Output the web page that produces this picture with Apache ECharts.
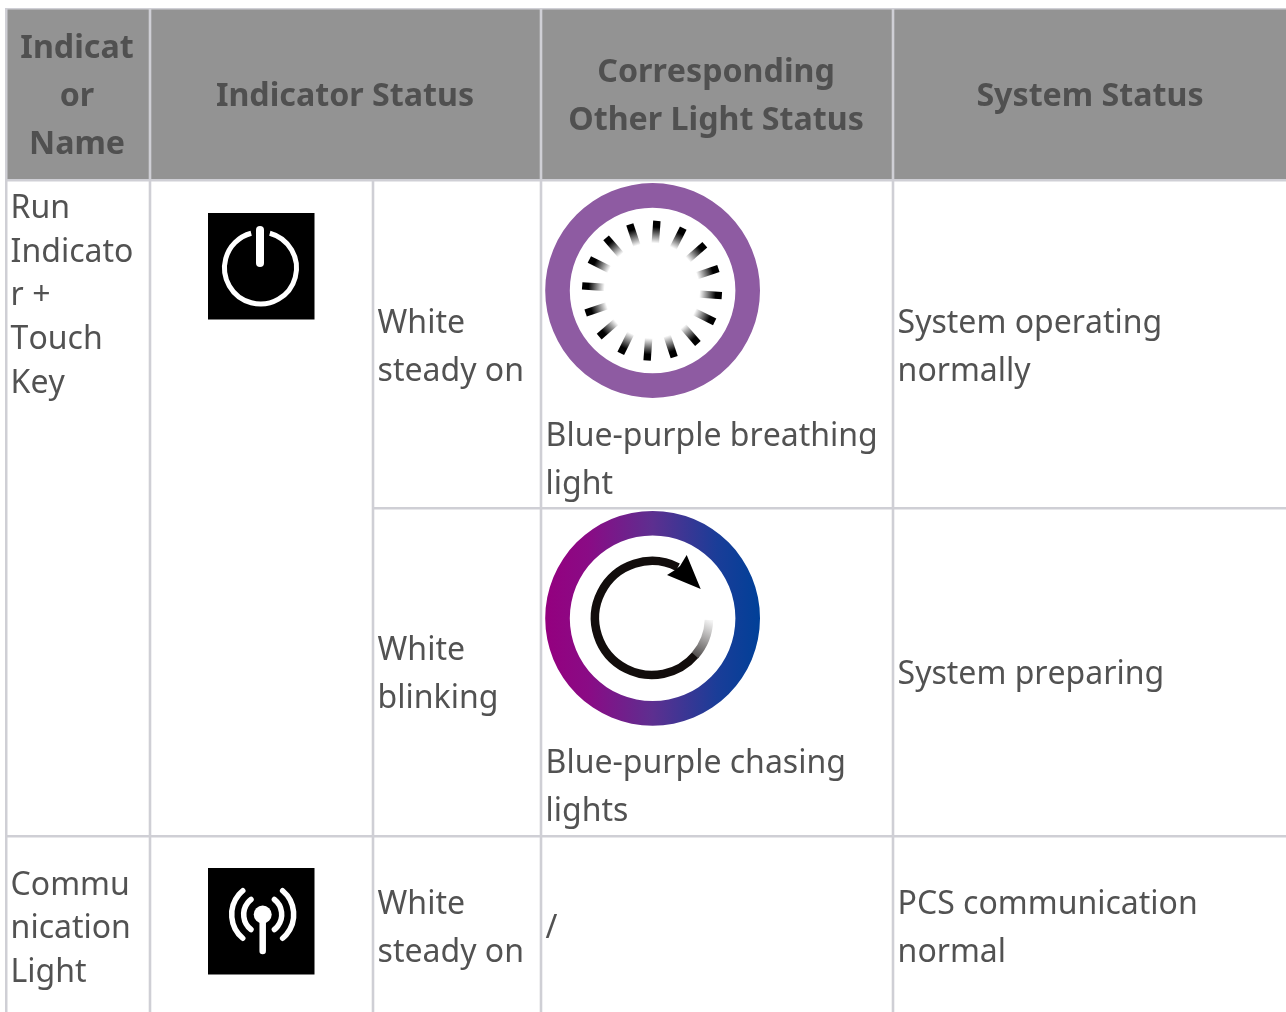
<!DOCTYPE html>
<html><head><meta charset="utf-8">
<style>html,body{margin:0;padding:0;background:#fff;overflow:hidden}#c{width:1286px;height:1012px}</style>
<script src="https://cdn.jsdelivr.net/npm/echarts@6/dist/echarts.min.js"></script>
</head><body><div id="c"></div>
<script>
var FONT='"Noto Sans"';
var headerTexts=[["Indicat",77,47],["or",77,95],["Name",77,143],["Indicator Status",345,95],["Corresponding",716,71],["Other Light Status",716,119],["System Status",1090,95]];
var firstColumnTexts=[["Run",207],["Indicato",251],["r +",294],["Touch",338],["Key",382],["Commu",884],["nication",927],["Light",971]];
var bodyTexts=[["White",378,322],["steady on",378,370],["Blue-purple breathing",546,435],["light",546,483],["System operating",898,322],["normally",898,370],
["White",378,649],["blinking",378,697],["Blue-purple chasing",546,762],["lights",546,810],["System preparing",898,673],
["White",378,903],["steady on",378,951],["/",546,927],["PCS communication",898,903],["normal",898,951]];
var E=[];
var GRID='#cfcfd5';
var DY=2.2,DX=-0.4;
function rect(x,y,w,h,f){E.push({type:'rect',shape:{x:x,y:y,width:w,height:h},style:{fill:f},silent:true});}
function txt(t,x,y,size,weight,align,col){E.push({type:'text',silent:true,style:{text:t,x:x+(align==='left'?DX:0),y:y+DY,font:weight+' '+size+'px '+FONT,fill:col,align:align,verticalAlign:'middle'}});}
function arc(cx,cy,r,a,b,cw,w,col,cap){E.push({type:'arc',silent:true,shape:{cx:cx,cy:cy,r:r,startAngle:a,endAngle:b,clockwise:cw},style:{fill:'none',stroke:col,lineWidth:w,lineCap:cap||'butt'}});}
var D=Math.PI/180;
rect(6,9,1280,171,'#939393');
rect(5,8,1281,1.5,GRID);
rect(5,8,2.5,1004,GRID);
rect(148.7,8,2.6,1004,GRID);
rect(371.7,180,2.6,832,GRID);
rect(539.7,8,2.6,1004,GRID);
rect(891.7,8,2.6,1004,GRID);
rect(5,179,1281,2.6,GRID);
rect(373,507,913,2.6,GRID);
rect(5,835,1281,2.6,GRID);
headerTexts.forEach(function(t){txt(t[0],t[1],t[2],32.2,'bold','center','#505050');});
firstColumnTexts.forEach(function(t){txt(t[0],11,t[1],32,'normal','left','#525252');});
bodyTexts.forEach(function(t){txt(t[0],t[1],t[2],32,'normal','left','#525252');});
rect(208,213,106.5,106.5,'#000');
arc(260.5,268,36,(-90+15)*D,(270-15)*D,true,5,'#fff');
E.push({type:'line',silent:true,shape:{x1:260,y1:230,x2:260,y2:263},style:{stroke:'#fff',lineWidth:8,lineCap:'round'}});
rect(208,868,106.5,106.5,'#000');
var ax=262.7,ay=914.5;
E.push({type:'circle',silent:true,shape:{cx:ax,cy:ay,r:9},style:{fill:'#fff'}});
E.push({type:'line',silent:true,shape:{x1:ax,y1:ay,x2:ax,y2:951},style:{stroke:'#fff',lineWidth:6.5,lineCap:'round'}});
arc(ax,ay,19,-52*D,52*D,true,5.5,'#fff','round');
arc(ax,ay,19,(180-52)*D,(180+52)*D,true,5.5,'#fff','round');
arc(ax,ay,31,-50*D,50*D,true,5.5,'#fff','round');
arc(ax,ay,31,(180-50)*D,(180+50)*D,true,5.5,'#fff','round');
var cx=652.6,cy1=290.5,cy2=618.3,R=107.4,r0=82.8;
E.push({type:'ring',silent:true,shape:{cx:cx,cy:cy1,r:R,r0:r0},style:{fill:'#8e5ba2'}});
for(var i=0;i<16;i++){
  var a=(4+22.5*i)*D,sx=Math.sin(a),cy_=-Math.cos(a),px=-cy_,py=sx,h=3.7;
  var x0=652,y0=290.7,ro=70,ri=45;
  E.push({type:'polygon',silent:true,shape:{points:[
    [x0+sx*ro+px*h,y0+cy_*ro+py*h],[x0+sx*ro-px*h,y0+cy_*ro-py*h],
    [x0+sx*ri-px*h,y0+cy_*ri-py*h],[x0+sx*ri+px*h,y0+cy_*ri+py*h]]},
    style:{fill:{type:'linear',x:x0+sx*ro,y:y0+cy_*ro,x2:x0+sx*ri,y2:y0+cy_*ri,global:true,
      colorStops:[{offset:0,color:'#000'},{offset:0.25,color:'#000'},{offset:0.9,color:'#fff'},{offset:1,color:'#fff'}]}}});
}
E.push({type:'ring',silent:true,shape:{cx:cx,cy:cy2,r:R,r0:r0},style:{fill:{type:'linear',x:cx-R,y:0,x2:cx+R,y2:0,global:true,
  colorStops:[{offset:0,color:'#94007f'},{offset:0.2,color:'#8a0b85'},{offset:0.5,color:'#5d2f90'},{offset:0.8,color:'#1a3d98'},{offset:1,color:'#004098'}]}}});
var bx=652,by=618,br=57,bw=8.5;
arc(bx,by,br,(-90+27)*D,(-90-230)*D,false,bw,'#120d0c');
arc(bx,by,br,(-90-229)*D,(-90-268)*D,false,bw,{type:'linear',x:685,y:668,x2:709,y2:620,global:true,colorStops:[{offset:0,color:'#120d0c'},{offset:1,color:'#f4f4f4'}]});
E.push({type:'polygon',silent:true,shape:{points:[[686.7,555],[700.7,589],[667,575],[675,570],[680,566]]},style:{fill:'#000'}});
var nativeGetContext=HTMLCanvasElement.prototype.getContext;
HTMLCanvasElement.prototype.getContext=function(){var g=nativeGetContext.apply(this,arguments);if(g&&'fontKerning' in g){g.fontKerning='none';}return g;};
var chart=echarts.init(document.getElementById('c'),null,{renderer:'canvas'});
chart.setOption({animation:false,backgroundColor:'#fff',graphic:{elements:E}});
</script></body></html>
